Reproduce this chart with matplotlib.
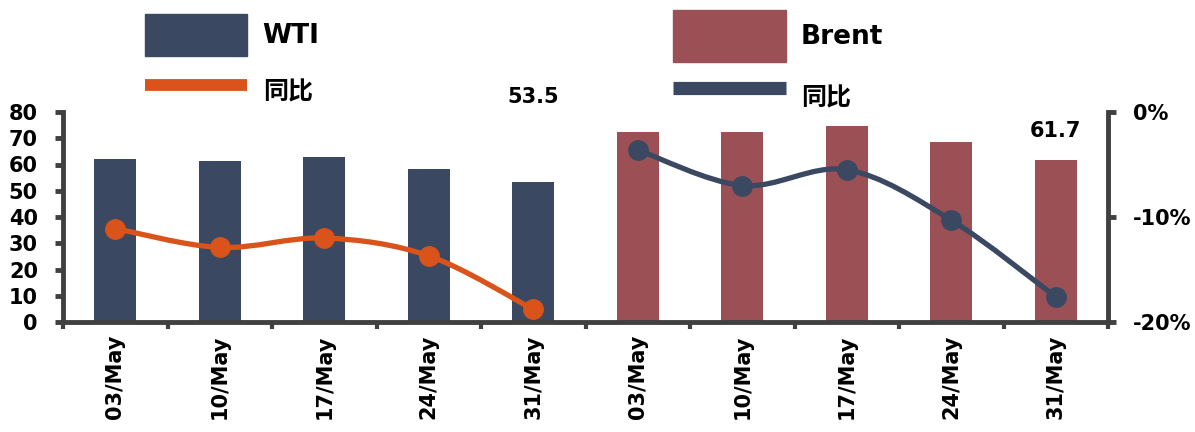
import matplotlib
matplotlib.use('Agg')
import matplotlib.pyplot as plt
import numpy as np
from matplotlib.path import Path
from matplotlib.patches import PathPatch, Patch
from matplotlib.lines import Line2D
from matplotlib.ticker import FuncFormatter, FixedLocator

plt.rcParams['font.family'] = ['DejaVu Sans', 'Noto Sans CJK SC']
plt.rcParams['font.weight'] = 'bold'

dates = ['03/May', '10/May', '17/May', '24/May', '31/May']
wti = [62.1, 61.3, 62.9, 58.3, 53.5]
brent = [72.4, 72.3, 74.7, 68.6, 61.7]
wti_yoy = [-11.1, -12.9, -12.0, -13.7, -18.8]
brent_yoy = [-3.6, -7.0, -5.5, -10.3, -17.6]

navy = '#3B4862'
red = '#9B5055'
orange = '#D9531A'
axc = '#404040'

x_wti = np.arange(len(dates))
x_brent = np.arange(len(dates)) + len(dates)

fig = plt.figure(figsize=(11.95, 4.32), dpi=100)
ax = fig.add_axes([63 / 1195, 1 - 322 / 432, (1108 - 63) / 1195, 210 / 432])
ax2 = ax.twinx()

ax.bar(x_wti, wti, width=0.4, color=navy, zorder=2)
ax.bar(x_brent, brent, width=0.4, color=red, zorder=2)
ax.set_ylim(0, 80)
ax.set_yticks(range(0, 81, 10))
ax.set_xlim(-0.5, 9.5)
ax.set_xticks(np.concatenate([x_wti, x_brent]))
ax.set_xticklabels(dates + dates, rotation=90, fontsize=15, fontweight='bold')
ax.xaxis.set_minor_locator(FixedLocator(np.arange(-0.5, 10, 1.0)))
ax.tick_params(axis='x', which='major', length=0, pad=9)
ax.tick_params(axis='x', which='minor', length=5, width=3, color=axc)
ax.tick_params(axis='y', length=6, width=3.5, color=axc, labelsize=15, pad=12)
for lab in ax.get_yticklabels():
    lab.set_fontweight('bold')

for a in (ax, ax2):
    for s in a.spines.values():
        s.set_visible(False)
ax.spines['left'].set_visible(True)
ax.spines['bottom'].set_visible(True)
ax2.spines['right'].set_visible(True)
for s in (ax.spines['left'], ax.spines['bottom'], ax2.spines['right']):
    s.set_color(axc)
    s.set_linewidth(3.5)

ax2.set_ylim(-20, 0)
ax2.set_yticks([-20, -10, 0])
ax2.yaxis.set_major_formatter(FuncFormatter(lambda v, p: '%d%%' % v))
ax2.tick_params(axis='y', length=6, width=3.5, color=axc, labelsize=15, pad=12)
for lab in ax2.get_yticklabels():
    lab.set_fontweight('bold')


def smooth(a, xs, ys, color):
    # Catmull-Rom style bezier so the line looks like the Excel smoothed line
    pts = list(zip(xs, ys))
    verts = [pts[0]]
    codes = [Path.MOVETO]
    for i in range(len(pts) - 1):
        p0 = np.array(pts[i - 1] if i > 0 else pts[i])
        p1 = np.array(pts[i])
        p2 = np.array(pts[i + 1])
        p3 = np.array(pts[i + 2] if i + 2 < len(pts) else pts[i + 1])
        c1 = p1 + (p2 - p0) / 6
        c2 = p2 - (p3 - p1) / 6
        verts += [tuple(c1), tuple(c2), tuple(p2)]
        codes += [Path.CURVE4] * 3
    a.add_patch(PathPatch(Path(verts, codes), fill=False, edgecolor=color,
                          lw=3.8, zorder=3, capstyle='round'))
    a.plot(xs, ys, 'o', color=color, markersize=14, zorder=4)


smooth(ax2, x_wti, wti_yoy, orange)
smooth(ax2, x_brent, brent_yoy, navy)

ax.annotate('%.1f' % wti[-1], xy=(x_wti[-1], wti[-1]), xytext=(0, 54),
            textcoords='offset points', ha='center', va='bottom',
            fontsize=15, fontweight='bold', annotation_clip=False)
ax.annotate('%.1f' % brent[-1], xy=(x_brent[-1], brent[-1]), xytext=(0, 14),
            textcoords='offset points', ha='center', va='bottom',
            fontsize=15, fontweight='bold', annotation_clip=False)

lfont = {'family': ['DejaVu Sans', 'Noto Sans CJK SC'], 'weight': 'bold', 'size': 19}
h1 = [Patch(color=navy), Line2D([], [], color=orange, lw=8.5, solid_capstyle='butt')]
h2 = [Patch(color=red), Line2D([], [], color=navy, lw=9.5, solid_capstyle='butt')]
leg1 = fig.legend(h1, ['WTI', '同比'], loc='upper left', bbox_to_anchor=(145 / 1195, 1 - 14 / 432),
                  frameon=False, prop=lfont, handlelength=3.86, handleheight=2.07,
                  labelspacing=0.55, handletextpad=0.6, borderpad=0, borderaxespad=0)
leg2 = fig.legend(h2, ['Brent', '同比'], loc='upper left', bbox_to_anchor=(673 / 1195, 1 - 10 / 432),
                  frameon=False, prop=lfont, handlelength=4.3, handleheight=2.65,
                  labelspacing=0.35, handletextpad=0.55, borderpad=0, borderaxespad=0)
for leg in (leg1, leg2):
    leg.get_texts()[1].set_fontsize(18)

fig.savefig('out.png', dpi=100)
